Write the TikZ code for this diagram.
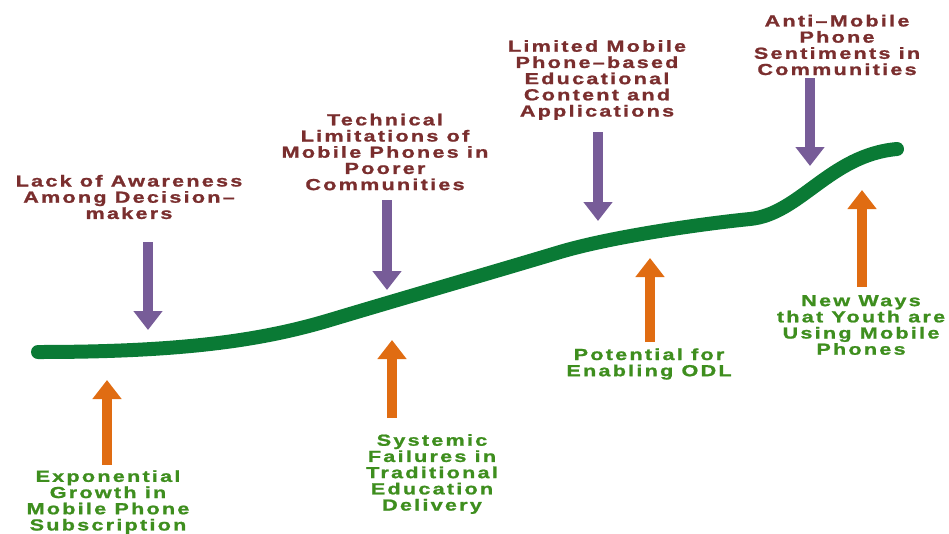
\documentclass[tikz,border=0pt]{standalone}
\usepackage{fontspec}
\usetikzlibrary{arrows.meta}
\newfontfamily\lblfont{Liberation Sans}[FakeStretch=1.35,LetterSpace=14,FakeBold=1.2]
\definecolor{curvegreen}{HTML}{0A7A35}
\definecolor{barrier}{HTML}{7A2E2E}
\definecolor{driver}{HTML}{3E8E1E}
\definecolor{downarrow}{HTML}{775C98}
\definecolor{uparrow}{HTML}{E06C12}
\tikzset{
  lbl/.style={align=center, inner sep=0pt, font=\lblfont\bfseries\fontsize{16}{16.2}\selectfont},
  barrierlbl/.style={lbl, text=barrier},
  driverlbl/.style={lbl, text=driver},
  fatarrow/.style={line width=10pt, line cap=butt, -{Triangle[width=28pt,length=19pt]}},
  pushdown/.style={fatarrow, draw=downarrow, fill=downarrow},
  pushup/.style={fatarrow, draw=uparrow, fill=uparrow},
  trend/.style={draw=curvegreen, line width=14pt, line cap=round, line join=round}
}
\begin{document}
\begin{tikzpicture}[x=1pt,y=-1pt]
\useasboundingbox (0,0) rectangle (949,533);

% adoption trend line
\coordinate (t0) at (38,352);
\coordinate (t1) at (330,320);
\coordinate (t2) at (560,252);
\coordinate (t3) at (750,219);
\coordinate (t4) at (897,149);
\draw[trend] (t0) .. controls (180,352) and (260,341) .. (t1)
                  .. controls (400,299) and (490,273) .. (t2)
                  .. controls (610,237) and (700,224) .. (t3)
                  .. controls (800,214) and (830,155) .. (t4);

% barriers (above the line)
\node[barrierlbl] (b1) at (129,197) {Lack of Awareness\\Among Decision–\\makers};
\node[barrierlbl] (b2) at (385,152) {Technical\\Limitations of\\Mobile Phones in\\Poorer\\Communities};
\node[barrierlbl] (b3) at (597,80) {Limited Mobile\\Phone–based\\Educational\\Content and\\Applications};
\node[barrierlbl] (b4) at (837,45) {Anti–Mobile\\Phone\\Sentiments in\\Communities};

% drivers (below the line)
\node[driverlbl] (d1) at (108,502) {Exponential\\Growth in\\Mobile Phone\\Subscription};
\node[driverlbl] (d2) at (432,474) {Systemic\\Failures in\\Traditional\\Education\\Delivery};
\node[driverlbl] (d3) at (649,364) {Potential for\\Enabling ODL};
\node[driverlbl] (d4) at (861,325) {New Ways\\that Youth are\\Using Mobile\\Phones};

% arrow end points
\coordinate (b1s) at (148,242); \coordinate (b1e) at (148,330);
\coordinate (b2s) at (387,200); \coordinate (b2e) at (387,290);
\coordinate (b3s) at (598,132); \coordinate (b3e) at (598,221);
\coordinate (b4s) at (810,78);  \coordinate (b4e) at (810,166);
\coordinate (d1s) at (107,465); \coordinate (d1e) at (107,380);
\coordinate (d2s) at (392,418); \coordinate (d2e) at (392,340);
\coordinate (d3s) at (650,342); \coordinate (d3e) at (650,258);
\coordinate (d4s) at (862,287); \coordinate (d4e) at (862,190);

\draw[pushdown] (b1s) -- (b1e);
\draw[pushdown] (b2s) -- (b2e);
\draw[pushdown] (b3s) -- (b3e);
\draw[pushdown] (b4s) -- (b4e);
\draw[pushup] (d1s) -- (d1e);
\draw[pushup] (d2s) -- (d2e);
\draw[pushup] (d3s) -- (d3e);
\draw[pushup] (d4s) -- (d4e);
\end{tikzpicture}
\end{document}
